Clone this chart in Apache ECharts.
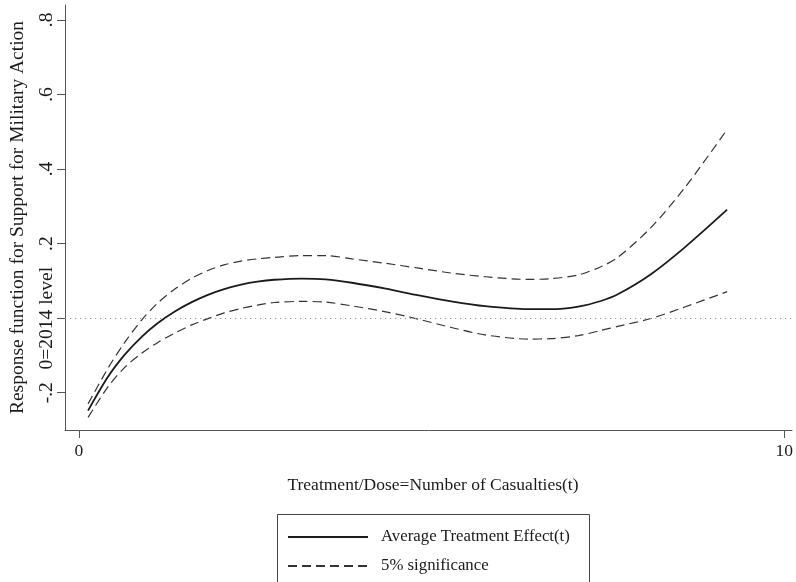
<!DOCTYPE html>
<html>
<head>
<meta charset="utf-8">
<script src="https://cdn.jsdelivr.net/npm/echarts@6/dist/echarts.min.js"></script>
<style>
html,body{margin:0;padding:0;background:#fff;}
#chart{width:796px;height:582px;}
</style>
</head>
<body>
<div id="chart"></div>
<script>
// Treatment/dose values (number of casualties)
var doseValues = [0.13,0.41,0.65,0.89,1.12,1.36,1.60,1.82,2.06,2.30,2.53,2.77,3.16,3.50,3.87,4.35,4.82,5.28,5.76,6.37,6.69,7.08,7.40,7.64,8.11,8.59,9.19];
// Average treatment effect
var ateValues = [-0.248,-0.158,-0.098,-0.050,-0.013,0.018,0.043,0.062,0.078,0.090,0.098,0.103,0.106,0.104,0.095,0.079,0.061,0.045,0.032,0.024,0.024,0.031,0.046,0.064,0.118,0.190,0.291];
// 5% significance bands
var upperValues = [-0.230,-0.135,-0.065,-0.005,0.041,0.078,0.107,0.127,0.143,0.153,0.159,0.163,0.168,0.168,0.159,0.147,0.134,0.121,0.111,0.104,0.106,0.116,0.138,0.163,0.243,0.350,0.506];
var lowerValues = [-0.266,-0.185,-0.132,-0.094,-0.065,-0.040,-0.018,-0.002,0.014,0.026,0.035,0.042,0.045,0.043,0.033,0.017,-0.003,-0.025,-0.045,-0.056,-0.055,-0.047,-0.033,-0.022,-0.001,0.030,0.071];
// Tick labels
var xTicks = [0, 10];
var yTicks = [-0.2, 0, 0.2, 0.4, 0.6, 0.8];
var yTickLabels = ['-.2', '0=2014 level', '.2', '.4', '.6', '.8'];

var serif = '"Liberation Serif", "Times New Roman", serif';
function pairs(xs, ys) { return xs.map(function (x, i) { return [x, ys[i]]; }); }

var legendCommon = {
  left: 282, orient: 'vertical',
  itemWidth: 80, itemHeight: 14,
  itemStyle: {opacity: 0},
  textStyle: {fontFamily: serif, fontSize: 16.8, color: '#1a1a1a', lineHeight: 20, padding: [0, 0, 0, 8]},
  selectedMode: false
};

var chart = echarts.init(document.getElementById('chart'), null, {renderer: 'canvas'});
chart.setOption({
  animation: false,
  backgroundColor: '#fff',
  grid: {left: 65, right: 0, top: 5, bottom: 152, containLabel: false},
  xAxis: {
    type: 'value', min: -0.197, max: 10.11,
    name: 'Treatment/Dose=Number of Casualties(t)',
    nameLocation: 'middle', nameGap: 46,
    nameTextStyle: {fontFamily: serif, fontSize: 17.5, color: '#1a1a1a', padding: [0, 0, 0, 9]},
    axisLine: {show: true, onZero: false, lineStyle: {color: '#555', width: 1}},
    axisTick: {show: true, length: 8, customValues: xTicks, lineStyle: {color: '#555'}},
    axisLabel: {customValues: xTicks, margin: 12, fontFamily: serif, fontSize: 17.5, color: '#1a1a1a'},
    splitLine: {show: false}
  },
  yAxis: {
    type: 'value', min: -0.3, max: 0.84,
    name: 'Response function for Support for Military Action',
    nameLocation: 'middle', nameGap: 37,
    nameTextStyle: {fontFamily: serif, fontSize: 19.5, color: '#1a1a1a'},
    axisLine: {show: true, onZero: false, lineStyle: {color: '#555', width: 1}},
    axisTick: {show: true, length: 8, customValues: yTicks, lineStyle: {color: '#555'}},
    axisLabel: {
      customValues: yTicks, rotate: 90, margin: 8,
      fontFamily: serif, fontSize: 19.5, color: '#1a1a1a',
      formatter: function (v) {
        for (var i = 0; i < yTicks.length; i++) { if (Math.abs(yTicks[i] - v) < 1e-9) return yTickLabels[i]; }
        return '';
      }
    },
    splitLine: {show: false}
  },
  legend: [
    Object.assign({}, legendCommon, {top: 522, data: ['Average Treatment Effect(t)']}),
    Object.assign({}, legendCommon, {top: 551, data: ['5% significance']})
  ],
  graphic: [{
    type: 'rect', silent: true,
    shape: {x: 277.5, y: 514.5, width: 312, height: 100},
    style: {fill: 'none', stroke: '#444', lineWidth: 1}
  }],
  series: [
    {
      name: 'Average Treatment Effect(t)', type: 'line', smooth: 0.3, symbol: 'none',
      data: pairs(doseValues, ateValues),
      lineStyle: {color: '#1a1a1a', width: 1.8},
      itemStyle: {color: '#1a1a1a'},
      markLine: {
        silent: true, symbol: 'none', label: {show: false},
        lineStyle: {color: '#999', type: [1.2, 3.8], width: 1.2},
        data: [{yAxis: 0}]
      },
      z: 3
    },
    {
      name: '5% significance', type: 'line', smooth: 0.3, symbol: 'none',
      data: pairs(doseValues, upperValues),
      lineStyle: {color: '#333', width: 1.2, type: [9, 5]},
      itemStyle: {color: '#333'}
    },
    {
      name: '5% significance', type: 'line', smooth: 0.3, symbol: 'none',
      data: pairs(doseValues, lowerValues),
      lineStyle: {color: '#333', width: 1.2, type: [9, 5]},
      itemStyle: {color: '#333'}
    }
  ]
});
</script>
</body>
</html>
